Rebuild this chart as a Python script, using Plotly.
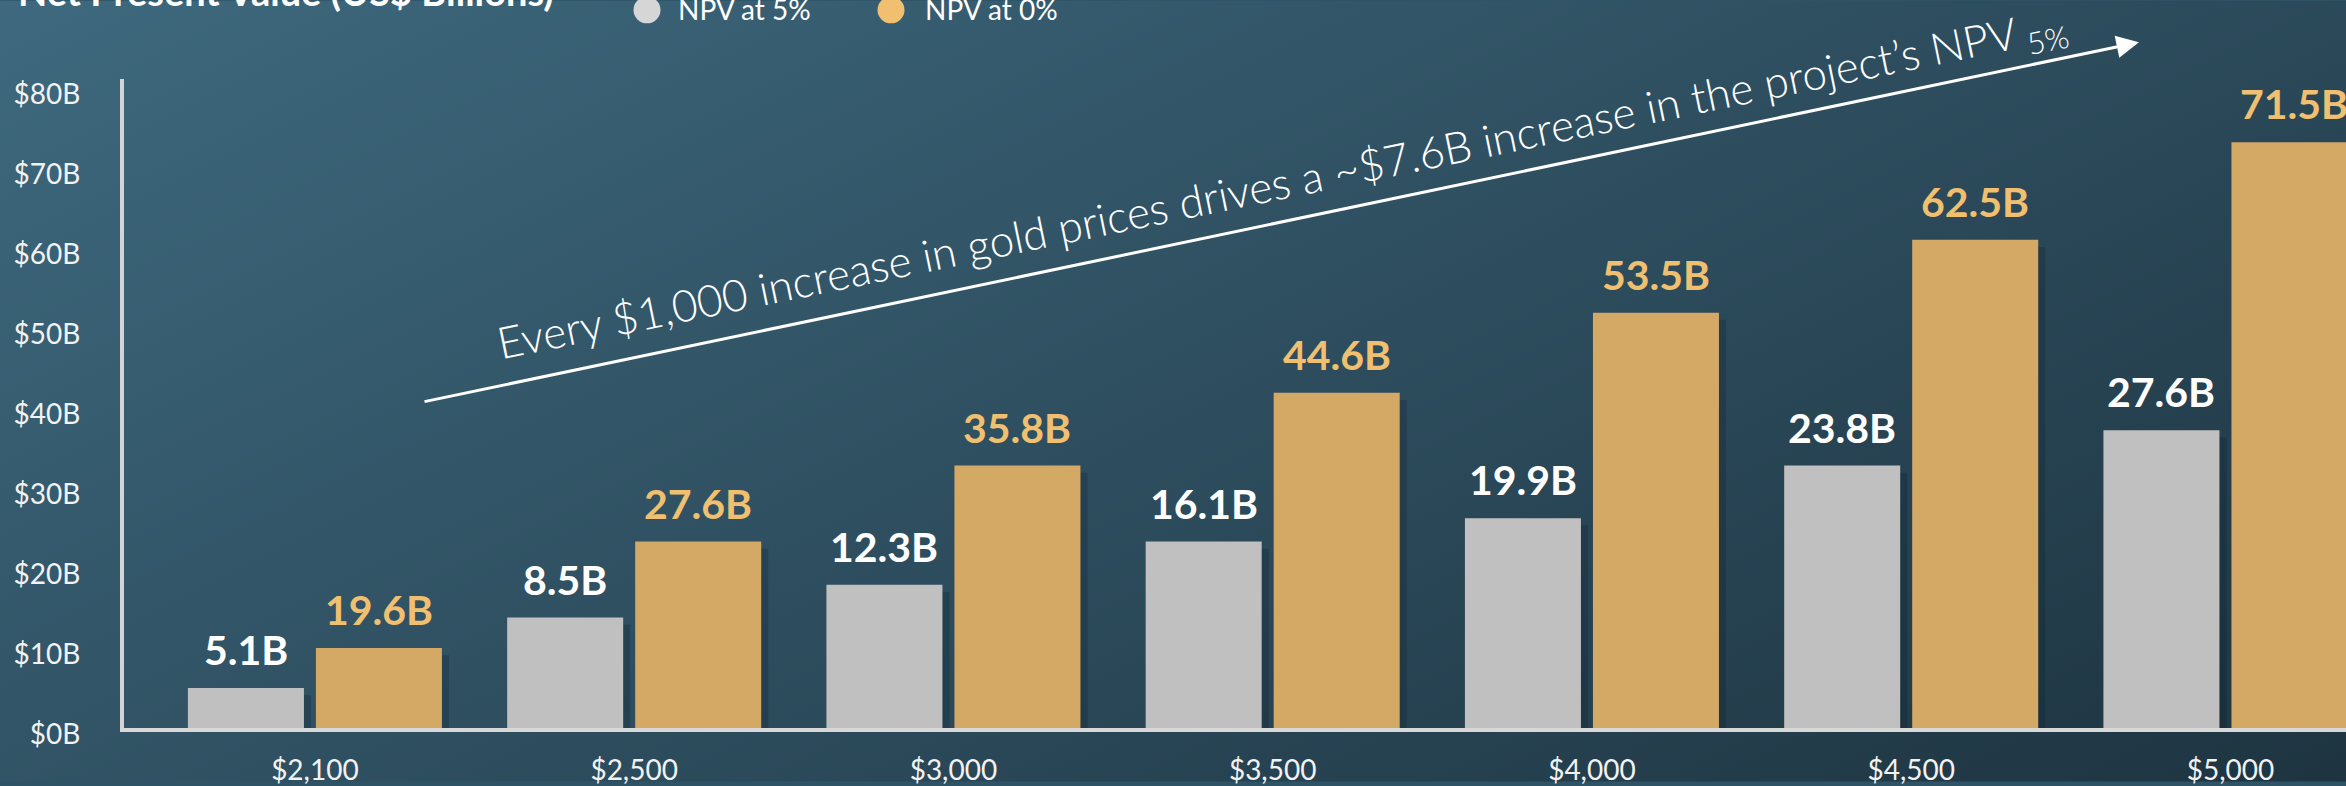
import base64
import plotly.graph_objects as go

# ---------------- data ----------------
gold_prices = ["$2,100", "$2,500", "$3,000", "$3,500", "$4,000", "$4,500", "$5,000"]
npv_5 = [5.0, 13.8, 17.9, 23.3, 26.2, 32.8, 37.2]
npv_0 = [10.0, 23.3, 32.8, 41.9, 51.9, 61.0, 73.2]
npv_5_labels = ["5.1B", "8.5B", "12.3B", "16.1B", "19.9B", "23.8B", "27.6B"]
npv_0_labels = ["19.6B", "27.6B", "35.8B", "44.6B", "53.5B", "62.5B", "71.5B"]
y_tick_vals = [0, 10, 20, 30, 40, 50, 60, 70, 80]
y_tick_text = ["$0B", "$10B", "$20B", "$30B", "$40B", "$50B", "$60B", "$70B", "$80B"]
series_names = ["NPV at 5%", "NPV at 0%"]
title_text = "Net Present Value (US$ Billions)"
callout_text = ("Every $1,000 increase in gold prices drives a ~$7.6B increase "
                "in the project\u2019s NPV<sub> 5%</sub>")

# ---------------- layout geometry ----------------
W, H = 2346, 786
ML, MR, MT, MB = 124, 0, 79, 54
PW, PH = W - ML - MR, H - MT - MB


def px(xp):
    return (xp - ML) / PW


def py(yp):
    return (H - MB - yp) / PH


GRAY = "#c0c0c0"
GOLD = "#d4a966"
GOLD_TXT = "#f0c070"
FONT = "Lato"
SHADOW = "rgba(10,25,35,0.22)"

idx = list(range(len(gold_prices)))
w5, off5 = 0.3634, -0.3978
w0, off0 = 0.3947, 0.0032
sh_dx = 0.022   # shadow shift (category units)
sh_dy = 0.9     # shadow drop (value units)

fig = go.Figure()
# soft drop shadows (drawn first, behind the bars)
fig.add_trace(go.Bar(x=idx, y=npv_5, base=-sh_dy, width=w5, offset=off5 + sh_dx,
                     marker=dict(color=SHADOW, line=dict(width=0)), hoverinfo="skip",
                     showlegend=False))
fig.add_trace(go.Bar(x=idx, y=npv_0, base=-sh_dy, width=w0, offset=off0 + sh_dx,
                     marker=dict(color=SHADOW, line=dict(width=0)), hoverinfo="skip",
                     showlegend=False))
fig.add_trace(go.Bar(x=idx, y=npv_5, width=w5, offset=off5, name=series_names[0],
                     marker=dict(color=GRAY, line=dict(width=0)), showlegend=False))
fig.add_trace(go.Bar(x=idx, y=npv_0, width=w0, offset=off0, name=series_names[1],
                     marker=dict(color=GOLD, line=dict(width=0)), showlegend=False))

annotations = []
for i in idx:
    annotations.append(dict(x=i + off5 + w5 / 2, y=npv_5[i], xref="x", yref="y",
                            text="<b>%s</b>" % npv_5_labels[i], showarrow=False,
                            yanchor="bottom", yshift=12,
                            font=dict(family=FONT, size=41, color="#ffffff")))
    annotations.append(dict(x=i + off0 + w0 / 2, y=npv_0[i], xref="x", yref="y",
                            text="<b>%s</b>" % npv_0_labels[i], showarrow=False,
                            yanchor="bottom", yshift=12,
                            font=dict(family=FONT, size=41, color=GOLD_TXT)))

# title (cut off at top in the reference)
annotations.append(dict(x=px(16), y=py(16), xref="paper", yref="paper", xanchor="left",
                        yanchor="bottom", showarrow=False, text="<b>%s</b>" % title_text,
                        font=dict(family=FONT, size=38, color="#ffffff")))
# legend texts
annotations.append(dict(x=px(676), y=py(9), xref="paper", yref="paper", xanchor="left",
                        yanchor="middle", showarrow=False, text=series_names[0],
                        font=dict(family=FONT, size=28, color="#ffffff")))
annotations.append(dict(x=px(923), y=py(9), xref="paper", yref="paper", xanchor="left",
                        yanchor="middle", showarrow=False, text=series_names[1],
                        font=dict(family=FONT, size=28, color="#ffffff")))
# arrow
annotations.append(dict(x=px(2139), y=py(42), xref="paper", yref="paper", text="",
                        showarrow=True, ax=423 - 2139, ay=401.7 - 42, axref="pixel",
                        ayref="pixel", arrowhead=2, arrowsize=1.5, arrowwidth=3,
                        arrowcolor="#ffffff"))
# rotated callout
annotations.append(dict(x=px(1282), y=py(186), xref="paper", yref="paper",
                        xanchor="center", yanchor="middle", showarrow=False,
                        textangle=-11.6, text=callout_text,
                        font=dict(family=FONT, size=44, color="#ffffff", weight=300)))

shapes = [
    dict(type="circle", xref="paper", yref="paper", x0=px(633.5), x1=px(660.5),
         y0=py(-4), y1=py(23), fillcolor="#d6d6d6", line=dict(width=0)),
    dict(type="circle", xref="paper", yref="paper", x0=px(877.5), x1=px(904.5),
         y0=py(-4), y1=py(23), fillcolor="#f0c070", line=dict(width=0)),
]

svg = (f'<svg xmlns="http://www.w3.org/2000/svg" width="{W}" height="{H}" '
       f'viewBox="0 0 {W} {H}" preserveAspectRatio="none"><defs>'
       '<linearGradient id="g" x1="0" y1="0" x2="1.15" y2="0.77">'
       '<stop offset="0" stop-color="#3e697e"/><stop offset="1" stop-color="#1e3441"/>'
       '</linearGradient></defs><rect width="100%" height="100%" fill="url(#g)"/></svg>')
bg_src = "data:image/svg+xml;base64," + base64.b64encode(svg.encode()).decode()

fig.update_layout(
    width=W, height=H,
    margin=dict(l=ML, r=MR, t=MT, b=MB, pad=0),
    paper_bgcolor="#2f5366", plot_bgcolor="rgba(0,0,0,0)",
    barmode="overlay",
    showlegend=False,
    annotations=annotations,
    shapes=shapes,
    images=[dict(source=bg_src, xref="paper", yref="paper", x=px(0), y=py(0),
                 sizex=W / PW, sizey=H / PH, sizing="stretch", xanchor="left",
                 yanchor="top", layer="below")],
    xaxis=dict(range=[-0.598, 6.362], tickmode="array", tickvals=idx, ticktext=gold_prices,
               showgrid=False, zeroline=False, showline=True, linecolor="#d8d8d8",
               linewidth=4, ticks="outside", ticklen=14, tickcolor="rgba(0,0,0,0)",
               tickfont=dict(family=FONT, size=28, color="#f2f2f2")),
    yaxis=dict(range=[0, 81.1], tickmode="array", tickvals=y_tick_vals, ticktext=y_tick_text,
               showgrid=False, zeroline=False, showline=True, linecolor="#d4d4d4",
               linewidth=4, ticks="outside", ticklen=34, tickcolor="rgba(0,0,0,0)",
               ticklabelshift=6,
               tickfont=dict(family=FONT, size=28, color="#f2f2f2")),
)

fig.write_html("out.html")
